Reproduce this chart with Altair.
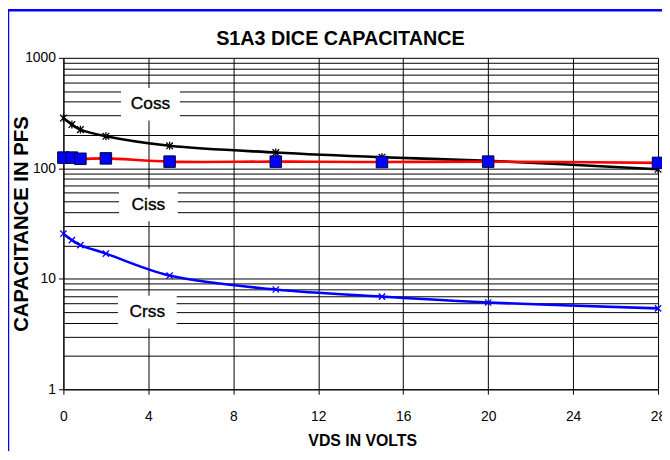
import altair as alt
import pandas as pd

# ---- data ----
vds = [0, 0.4, 0.8, 2, 5, 10, 15, 20, 28]
coss = [285, 249, 224, 195, 160, 139, 126, 117, 98]
ciss = [125, 125, 122, 123, 115, 115, 114, 115, 112]
crss = [25.6, 22.4, 20.2, 16.9, 10.7, 8.0, 6.9, 6.1, 5.4]

label_names = ["Coss", "Ciss", "Crss"]
label_x = [4.1, 4.0, 3.95]
label_y = [380, 46.6, 5.0]

x_ticks = [0, 4, 8, 12, 16, 20, 24, 28]
y_major = [1, 10, 100, 1000]
y_grid = [m * d for d in [1, 10, 100] for m in range(1, 10)] + [1000]

TITLE = "S1A3 DICE CAPACITANCE"
FONT = "Liberation Sans"

rows = []
for name, vals in [("Coss", coss), ("Ciss", ciss), ("Crss", crss)]:
    for xv, yv in zip(vds, vals):
        rows.append({"vds": xv, "cap": yv, "series": name})
df = pd.DataFrame(rows)
lab = pd.DataFrame({"name": label_names, "x": label_x, "y": label_y})

xscale = alt.Scale(domain=[0, 28], nice=False, zero=False)
yscale = alt.Scale(type="log", domain=[1, 1000], nice=False)

xaxis = alt.Axis(
    values=x_ticks, title="VDS IN VOLTS", grid=True, gridColor="#000000",
    gridOpacity=1, gridWidth=1, domainColor="#000000", domainWidth=1,
    tickColor="#000000", tickSize=5, labelFont=FONT, labelFontSize=14,
    labelColor="#000000", labelPadding=16, titleFont=FONT, titleFontSize=16,
    titleFontWeight="bold", titleColor="#000000", titleBaseline="middle",
    titleY=52, titleX=302, labelFlush=False, labelOverlap=False,
)
yaxis = alt.Axis(
    values=y_grid, title="CAPACITANCE IN PFS", grid=True, gridColor="#000000",
    gridOpacity=1, gridWidth=1, domainColor="#000000", domainWidth=1,
    tickColor={"condition": {"test": "indexof([1,10,100,1000], datum.value) >= 0",
                             "value": "#000000"}, "value": "transparent"},
    tickSize=5, labelFont=FONT, labelFontSize=14, labelColor="#000000",
    labelPadding=3,
    labelExpr="indexof([1,10,100,1000], datum.value) >= 0 ? '' + datum.value : ''",
    labelOverlap=False, labelFlush=False,
    titleFont=FONT, titleFontSize=20.5, titleFontWeight="bold", titleColor="#000000",
    titleX=-32, titleY=167.5, titleBaseline="bottom", titleAngle=-90, titleAlign="center",
)

color = alt.Color("series:N", scale=alt.Scale(domain=["Coss", "Ciss", "Crss"],
                                              range=["#000000", "#ff0000", "#0000ff"]),
                  legend=None)

base = alt.Chart(df)
lines = base.mark_line(interpolate="catmull-rom", strokeWidth=2.6).encode(
    x=alt.X("vds:Q", scale=xscale, axis=xaxis),
    y=alt.Y("cap:Q", scale=yscale, axis=yaxis),
    color=color,
    detail="series:N",
)

ASTER = "M-1,-1L1,1M-1,1L1,-1M0,-1.2L0,1.2"
XMARK = "M-1,-1L1,1M-1,1L1,-1"

coss_pts = base.transform_filter(alt.datum.series == "Coss").mark_point(
    shape=ASTER, size=45, stroke="#000000", strokeWidth=1.3, filled=False, opacity=1
).encode(x="vds:Q", y="cap:Q")
ciss_pts = base.transform_filter(alt.datum.series == "Ciss").mark_point(
    shape="square", size=135, fill="#0000ff", stroke="#000033", strokeWidth=1,
    filled=True, opacity=1, fillOpacity=1
).encode(x="vds:Q", y="cap:Q")
crss_pts = base.transform_filter(alt.datum.series == "Crss").mark_point(
    shape=XMARK, size=40, stroke="#0000ff", strokeWidth=1.3, filled=False, opacity=1
).encode(x="vds:Q", y="cap:Q")

BOX = "M-1.8,-1L1.8,-1L1.8,1L-1.8,1Z"
boxes = alt.Chart(lab).mark_point(
    shape=BOX, size=(2 * 16.5) ** 2, fill="#ffffff", filled=True, opacity=1,
    strokeWidth=0
).encode(x="x:Q", y="y:Q")
texts = alt.Chart(lab).mark_text(
    font=FONT, fontSize=17.5, color="#000000", align="center", baseline="middle",
    stroke="#000000", strokeWidth=0.35
).encode(x="x:Q", y="y:Q", text="name:N")

border = alt.Chart(alt.Data(values=[{"k": 1}])).mark_rect(
    fill="transparent", stroke="#0000ff", strokeWidth=2.5
).encode(x=alt.value(-56), x2=alt.value(620), y=alt.value(-48), y2=alt.value(420))

title = alt.Chart(alt.Data(values=[{"t": TITLE}])).mark_text(
    font=FONT, fontSize=20, fontWeight="bold", color="#000000",
    align="center", baseline="middle"
).encode(x=alt.value(280), y=alt.value(-19), text="t:N")

chart = alt.layer(border, title, boxes, texts, lines, coss_pts, ciss_pts, crss_pts).properties(
    width=601, height=335,
    autosize=alt.AutoSizeParams(type="none"),
    padding={"left": 56, "top": 48, "right": 4, "bottom": 60},
).configure_view(stroke=None).configure(background="#ffffff")

chart.save("out.html", embed_options={"renderer": "svg", "actions": False})
